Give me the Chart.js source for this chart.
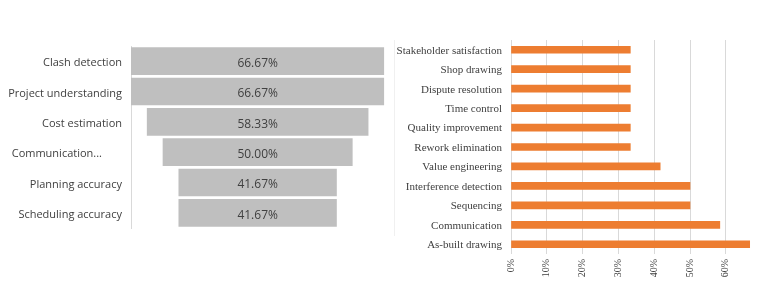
<!DOCTYPE html>
<html>
<head>
<meta charset="utf-8">
<script src="https://cdn.jsdelivr.net/npm/chart.js@4.4.1/dist/chart.umd.min.js"></script>
<style>
  html, body { margin:0; padding:0; background:#fff; width:757px; height:282px; overflow:hidden; }
  #wrap { position:relative; width:757px; height:282px; overflow:hidden; }
  #left { position:absolute; left:0; top:0; }
  #right { position:absolute; left:390px; top:0; }
  #sep { position:absolute; left:394px; top:40px; width:1px; height:196px; background:#f0f0f0; }
</style>
</head>
<body>
<div id="wrap">
  <canvas id="left" width="395" height="282"></canvas>
  <div id="sep"></div>
  <canvas id="right" width="380" height="282"></canvas>
</div>
<script>
// ---- Funnel (left) data ----
const funnelLabels = ["Clash detection", "Project understanding", "Cost estimation", "Communication...", "Planning accuracy", "Scheduling accuracy"];
const funnelValues = [66.67, 66.67, 58.33, 50.00, 41.67, 41.67];

// ---- Bar (right) data ----
const barLabels = ["Stakeholder satisfaction", "Shop drawing", "Dispute resolution", "Time control", "Quality improvement", "Rework elimination", "Value engineering", "Interference detection", "Sequencing", "Communication", "As-built drawing"];
const barValues = [0.3333, 0.3333, 0.3333, 0.3333, 0.3333, 0.3333, 0.4167, 0.50, 0.50, 0.5833, 0.6667];
const barTicks = [0, 0.1, 0.2, 0.3, 0.4, 0.5, 0.6, 0.7];

const funnelMax = Math.max(...funnelValues);
const funnelData = funnelValues.map(v => [(funnelMax - v) / 2, (funnelMax + v) / 2]);

const funnelLabelPlugin = {
  id: 'funnelLabels',
  afterDatasetsDraw(chart) {
    const ctx = chart.ctx;
    const meta = chart.getDatasetMeta(0);
    ctx.save();
    ctx.font = '12px "Open Sans"';
    ctx.fillStyle = '#404040';
    ctx.textAlign = 'center';
    ctx.textBaseline = 'middle';
    meta.data.forEach((bar, i) => {
      const cx = (bar.x + bar.base) / 2;
      ctx.fillText(funnelValues[i].toFixed(2) + '%', cx, bar.y + 2.5);
    });
    ctx.restore();
  }
};

new Chart(document.getElementById('left'), {
  type: 'bar',
  data: {
    labels: funnelLabels,
    datasets: [{
      data: funnelData,
      backgroundColor: '#bfbfbf',
      borderWidth: 0,
      barPercentage: 0.91,
      categoryPercentage: 1.0
    }]
  },
  options: {
    indexAxis: 'y',
    responsive: false,
    animation: false,
    devicePixelRatio: 1,
    layout: { padding: { left: 0, right: 10.7, top: 46, bottom: 54 } },
    plugins: { legend: { display: false }, tooltip: { enabled: false } },
    scales: {
      x: { display: false, min: 0, max: funnelMax },
      y: {
        afterFit(scale) { scale.width = 131; scale.paddingTop = 0; scale.paddingBottom = 0; },
        grid: { display: false, drawTicks: false },
        border: { display: true, color: '#d9d9d9', width: 1 },
        ticks: {
          padding: 9,
          labelOffset: 2,
          color: '#404040',
          font: { family: '"Open Sans"', size: 11 },
          callback(v, i) {
            const l = funnelLabels[i];
            return l.endsWith('...') ? l + '       ' : l;
          }
        }
      }
    }
  },
  plugins: [funnelLabelPlugin]
});

new Chart(document.getElementById('right'), {
  type: 'bar',
  data: {
    labels: barLabels,
    datasets: [{
      data: barValues,
      backgroundColor: '#ed7d31',
      borderWidth: 0,
      barThickness: 7
    }]
  },
  options: {
    indexAxis: 'y',
    responsive: false,
    animation: false,
    devicePixelRatio: 1,
    layout: { padding: { left: 0, right: 8.4, top: 40, bottom: 0 } },
    plugins: { legend: { display: false }, tooltip: { enabled: false } },
    scales: {
      x: {
        min: barTicks[0],
        max: barTicks[barTicks.length - 1],
        afterFit(scale) { scale.height = 28; scale.paddingLeft = 0; scale.paddingRight = 0; },
        afterBuildTicks(scale) { scale.ticks = barTicks.map(v => ({ value: v })); },
        grid: { color: '#d9d9d9', drawTicks: false },
        border: { display: false },
        ticks: {
          padding: 5,
          minRotation: 90,
          maxRotation: 90,
          color: '#404040',
          font: { family: '"Liberation Serif"', size: 10 },
          callback: v => Math.round(v * 100) + '%'
        }
      },
      y: {
        afterFit(scale) { scale.width = 121; scale.paddingTop = 0; scale.paddingBottom = 0; },
        grid: { display: false, drawTicks: false },
        border: { display: false },
        ticks: {
          padding: 9,
          labelOffset: 1,
          color: '#404040',
          font: { family: '"Liberation Serif"', size: 11 }
        }
      }
    }
  }
});
</script>
</body>
</html>
